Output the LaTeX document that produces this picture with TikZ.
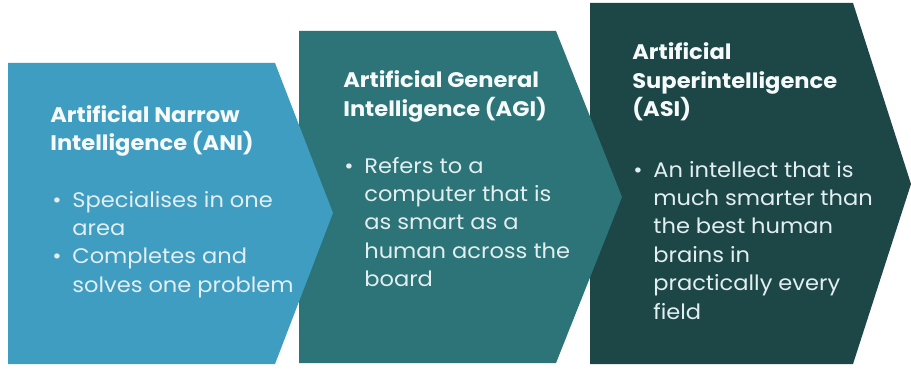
\documentclass[tikz,border=0pt]{standalone}
\usepackage{fontspec}
\setmainfont{Poppins}[FakeStretch=1.07]
\definecolor{aniblue}{RGB}{62,157,192}
\definecolor{agiteal}{RGB}{44,116,119}
\definecolor{asidark}{RGB}{29,71,71}
\definecolor{headwhite}{RGB}{246,250,250}
\definecolor{bodywhite}{RGB}{226,238,240}
\newcommand{\blt}{\makebox[0.4cm][l]{\textbullet}}
\newcommand{\bind}{\hspace*{0.4cm}}
\tikzset{
  headtext/.style={anchor=base west, inner sep=0pt, text=headwhite,
    font=\bfseries\fontsize{12}{16.2}\selectfont},
  bodytext/.style={anchor=base west, inner sep=0pt, text=bodywhite,
    font=\fontsize{12}{16.2}\selectfont}
}
\begin{document}
\begin{tikzpicture}[x=0.02cm,y=-0.02cm]
    \useasboundingbox[fill=white] (0,0) rectangle (911,368);
    % chevrons, back to front
    \fill[asidark] (590,3) -- (853,3) -- (911,184) -- (853,364) -- (590,364) -- cycle;
    \fill[agiteal] (299,31) -- (556,31) -- (622,197) -- (556,363) -- (299,363) -- cycle;
    \fill[aniblue] (8,63) -- (275,63) -- (333,213) -- (275,364) -- (8,364) -- cycle;
    % ANI
    \node[headtext] (anihead) at (50,122) {\begin{tabular}[t]{@{}l@{}}
        Artificial Narrow\\ Intelligence (ANI)\end{tabular}};
    \node[bodytext] (anibody) at (52,207) {\begin{tabular}[t]{@{}l@{}}
        \blt Specialises in one\\ \bind area\\
        \blt Completes and\\ \bind solves one problem\end{tabular}};
    % AGI
    \node[headtext] (agihead) at (343,88) {\begin{tabular}[t]{@{}l@{}}
        Artificial General\\ Intelligence (AGI)\end{tabular}};
    \node[bodytext] (agibody) at (344,173) {\begin{tabular}[t]{@{}l@{}}
        \blt Refers to a\\ \bind computer that is\\ \bind as smart as a\\
        \bind human across the\\ \bind board\end{tabular}};
    % ASI
    \node[headtext] (asihead) at (632,60) {\begin{tabular}[t]{@{}l@{}}
        Artificial\\ Superintelligence\\ (ASI)\end{tabular}};
    \node[bodytext] (asibody) at (633,177) {\begin{tabular}[t]{@{}l@{}}
        \blt An intellect that is\\ \bind much smarter than\\ \bind the best human\\
        \bind brains in\\ \bind practically every\\ \bind field\end{tabular}};
\end{tikzpicture}
\end{document}
